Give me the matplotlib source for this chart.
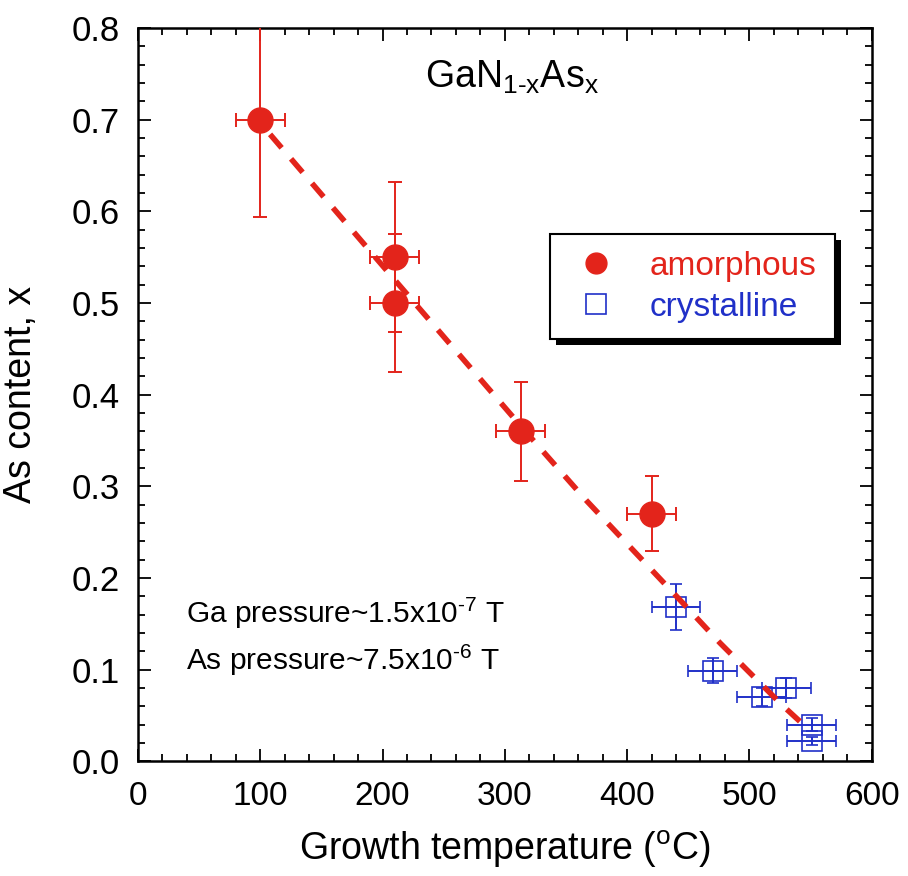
import matplotlib
matplotlib.use("Agg")
import matplotlib.pyplot as plt
from matplotlib.lines import Line2D
from matplotlib.patches import Rectangle
from matplotlib.ticker import MultipleLocator, FormatStrFormatter

plt.rcParams['font.family'] = ['Liberation Sans', 'DejaVu Sans']
plt.rcParams['mathtext.fontset'] = 'custom'
plt.rcParams['mathtext.rm'] = 'Liberation Sans'

# amorphous data
am_T = [100, 210, 210, 313, 420]
am_x = [0.70, 0.55, 0.50, 0.36, 0.27]
am_Terr = [20, 20, 20, 20, 20]
am_xerr = [0.106, 0.082, 0.075, 0.054, 0.041]

# crystalline data
cr_T = [440, 470, 510, 530, 551, 551]
cr_x = [0.168, 0.099, 0.070, 0.080, 0.040, 0.022]
cr_Terr = [20, 20, 20, 20, 20, 20]
cr_xerr = [0.025, 0.014, 0.010, 0.011, 0.007, 0.004]

# dashed guide line
fit_T = [108, 212, 320, 367, 446, 476, 527, 549]
fit_x = [0.684, 0.522, 0.355, 0.284, 0.172, 0.129, 0.061, 0.034]

red = '#e3241b'
blue = '#2030c8'

fig = plt.figure(figsize=(9.08, 8.76), dpi=100)
ax = fig.add_axes([0.152, 0.131, 0.808, 0.837])

ax.plot(fit_T, fit_x, color=red, lw=4, ls=(0, (3.2, 2.6)), zorder=4)

ax.errorbar(am_T, am_x, xerr=am_Terr, yerr=am_xerr, fmt='o', color=red,
            ms=18, elinewidth=1.4, capsize=5, capthick=1.4, zorder=3)
ax.errorbar(cr_T, cr_x, xerr=cr_Terr, yerr=cr_xerr, fmt='s', color=blue,
            mfc='none', mec=blue, mew=1.2, ms=14, elinewidth=1.4, capsize=4,
            capthick=1.4, zorder=3)

ax.set_xlim(0, 600)
ax.set_ylim(0, 0.8)
ax.xaxis.set_major_locator(MultipleLocator(100))
ax.xaxis.set_minor_locator(MultipleLocator(20))
ax.yaxis.set_major_locator(MultipleLocator(0.1))
ax.yaxis.set_minor_locator(MultipleLocator(0.02))
ax.yaxis.set_major_formatter(FormatStrFormatter('%.1f'))
ax.tick_params(which='both', direction='in', top=True, right=True, width=1.3)
ax.tick_params(which='major', length=9)
ax.tick_params(which='minor', length=5)
ax.tick_params(axis='x', which='major', labelsize=24, pad=14)
ax.tick_params(axis='y', which='major', labelsize=25, pad=13)
for s in ax.spines.values():
    s.set_linewidth(1.8)

ax.set_xlabel('Growth temperature ($\\mathregular{^oC}$)', fontsize=27, labelpad=12)
ax.set_ylabel('As content, x', fontsize=27)
ax.yaxis.set_label_coords(-0.135, 0.5)

ax.text(0.391, 0.918, r'GaN$_{\mathregular{1\text{-}x}}$As$_{\mathregular{x}}$',
        transform=ax.transAxes, fontsize=27, ha='left', va='baseline')
ax.text(0.066, 0.188, r'Ga pressure~1.5x10$^{\mathregular{\text{-}7}}$ T',
        transform=ax.transAxes, fontsize=21.5, ha='left', va='baseline')
ax.text(0.066, 0.124, r'As pressure~7.5x10$^{\mathregular{\text{-}6}}$ T',
        transform=ax.transAxes, fontsize=21.5, ha='left', va='baseline')

handles = [Line2D([], [], ls='none', marker='o', color=red, ms=15),
           Line2D([], [], ls='none', marker='s', mfc='none', mec=blue, mew=1.2, ms=14)]
leg = ax.legend(handles, ['amorphous', 'crystalline'], loc='upper left',
                bbox_to_anchor=(0.561, 0.577, 0.389, 0.142), mode='expand',
                fontsize=24, frameon=True, fancybox=False, framealpha=1,
                edgecolor='black', handletextpad=0.7, borderpad=0.5,
                labelspacing=0.3, handlelength=1.8, borderaxespad=0)
leg.get_frame().set_linewidth(1.5)
leg.set_zorder(6)
for t, c in zip(leg.get_texts(), [red, blue]):
    t.set_color(c)

# heavy black drop shadow behind the legend box
fig.canvas.draw()
bb = leg.get_window_extent()
off = 6
shadow = Rectangle((bb.x0 + off, bb.y0 - off), bb.width, bb.height,
                   transform=None, facecolor='black', edgecolor='none', zorder=5.9)
ax.add_artist(shadow)

fig.savefig('out.png', dpi=100)
